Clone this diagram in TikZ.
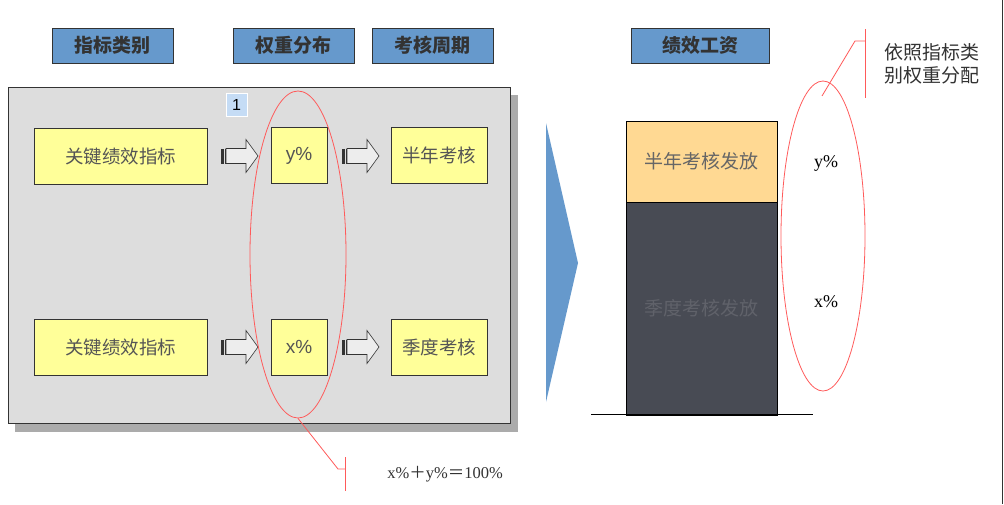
\documentclass[tikz,border=0pt]{standalone}
\usepackage{fontspec}
\setmainfont{Liberation Sans}
\newfontfamily\cjk{Noto Sans CJK SC}
\newfontfamily\serifl{Liberation Serif}
\usetikzlibrary{shapes.geometric}
\definecolor{hdrblue}{HTML}{6699CC}
\definecolor{ylw}{HTML}{FFFF99}
\definecolor{panelgray}{HTML}{DDDDDD}
\definecolor{shadowgray}{HTML}{ABABAB}
\definecolor{lblblue}{HTML}{C5DCF5}
\definecolor{orng}{HTML}{FFD993}
\definecolor{darkbar}{HTML}{484B54}
\definecolor{txtgray}{HTML}{555555}
\definecolor{redline}{HTML}{FF5A5A}
\definecolor{edge}{HTML}{333333}
\begin{document}
\begin{tikzpicture}[x=1pt,y=-1pt,
  hdr/.style={draw=edge, line width=1pt, fill=hdrblue, minimum height=35pt, inner sep=0pt,
    font=\cjk\bfseries\fontsize{19}{19}\selectfont, text=edge},
  ybox/.style={draw=edge, line width=1pt, fill=ylw, inner sep=0pt, minimum height=56pt,
    font=\cjk\fontsize{18.5}{18.5}\selectfont, text=txtgray},
  pbox/.style={ybox, minimum width=56pt, font=\fontsize{19}{19}\selectfont},
  ell/.style={draw=redline, line width=0.8pt, ellipse, inner sep=0pt},
  callout/.style={draw=redline, line width=0.8pt},
  blockarrow/.pic={
    \draw[edge, line width=0.6pt, fill=white!93!black]
      (5,-7.5) -- (25,-7.5) -- (25,-16.5) -- (37,0) -- (25,16.5) -- (25,7.5) -- (5,7.5) -- cycle;
    \fill[edge] (0,-7.5) rectangle (2.5,7.5);
    \fill[edge] (3.5,-7.5) rectangle (5,7.5);
  }
]
\useasboundingbox (0,0) rectangle (1004,504);
% right edge line
\draw[edge, line width=1.5pt] (1002.5,0) -- (1002.5,504);

% headers
\node[hdr, minimum width=121pt] (h1) at (112.5,45.5) {指标类别};
\node[hdr, minimum width=121pt] (h2) at (293.5,45.5) {权重分布};
\node[hdr, minimum width=121pt] (h3) at (432.5,45.5) {考核周期};
\node[hdr, minimum width=138pt] (h4) at (700,45.5) {绩效工资};

% panel with shadow
\fill[shadowgray] (15,95) rectangle (518,432);
\draw[edge, line width=1pt, fill=panelgray] (8,87) rectangle (510,423);

% label 1
\node[draw=white, line width=1pt, fill=lblblue, minimum width=21pt, minimum height=23pt, inner sep=0pt,
  font=\fontsize{16}{16}\selectfont] (one) at (236.5,104.5) {1};

% row 1
\node[ybox, minimum width=173pt] (k1) at (120.5,156) {关键绩效指标};
\node[pbox] (py) at (299,155.5) {y\%};
\node[ybox, minimum width=96pt] (c1) at (439,155.5) {半年考核};
% row 2
\node[ybox, minimum width=173pt] (k2) at (120.5,347) {关键绩效指标};
\node[pbox] (px) at (299,347) {x\%};
\node[ybox, minimum width=96pt] (c2) at (439,347) {季度考核};

% block arrows
\pic at (221,156) {blockarrow};
\pic at (342,156) {blockarrow};
\pic at (221,347) {blockarrow};
\pic at (342,347) {blockarrow};

% left ellipse and callout
\node[ell, minimum width=96pt, minimum height=327pt] (le) at (298,254.5) {};
\coordinate (lc1) at (338,469);
\coordinate (lc2) at (345,469);
\coordinate (lb1) at (345,457);
\coordinate (lb2) at (345,491);
\draw[callout] (le.south) -- (lc1) -- (lc2);
\draw[callout] (lb1) -- (lb2);
\node[font=\serifl\fontsize{16.5}{16.5}\selectfont, text=edge, inner sep=0pt] (sum) at (445,474)
  {x\%{\cjk\fontsize{16.5}{16.5}\selectfont ＋}y\%{\cjk\fontsize{16.5}{16.5}\selectfont ＝}100\%};

% big chevron
\fill[hdrblue] (546,123) -- (578,263) -- (546,402) -- cycle;

% stacked bar
\node[draw=black, line width=1pt, fill=orng, minimum width=151pt, minimum height=81pt, inner sep=0pt,
  font=\cjk\fontsize{19}{19}\selectfont, text=black!60] (top) at (701.5,161.5) {半年考核发放};
\node[draw=black, line width=1pt, fill=darkbar, minimum width=151pt, minimum height=213pt, inner sep=0pt,
  font=\cjk\fontsize{19}{19}\selectfont, text=white!13!darkbar] (bot) at (701.5,308.5) {季度考核发放};
\coordinate (bl) at (591,414.5);
\coordinate (br) at (813,414.5);
\draw[black, line width=1pt] (bl) -- (br);

% right ellipse and callout
\node[ell, minimum width=84pt, minimum height=310pt] (re) at (823,236) {};
\node[font=\serifl\fontsize{18}{18}\selectfont, inner sep=0pt] (ry) at (826,163) {y\%};
\node[font=\serifl\fontsize{18}{18}\selectfont, inner sep=0pt] (rx) at (826,302) {x\%};
\coordinate (rs) at (822,96);
\coordinate (rc1) at (855,41);
\coordinate (rc2) at (865,41);
\coordinate (rb1) at (865,29);
\coordinate (rb2) at (865,98);
\draw[callout] (rs) -- (rc1) -- (rc2);
\draw[callout] (rb1) -- (rb2);
\node[anchor=west, align=left, font=\cjk\fontsize{19}{23}\selectfont, text=edge, inner sep=0pt] (note) at (884,63.5)
  {依照指标类\\别权重分配};
\end{tikzpicture}
\end{document}
